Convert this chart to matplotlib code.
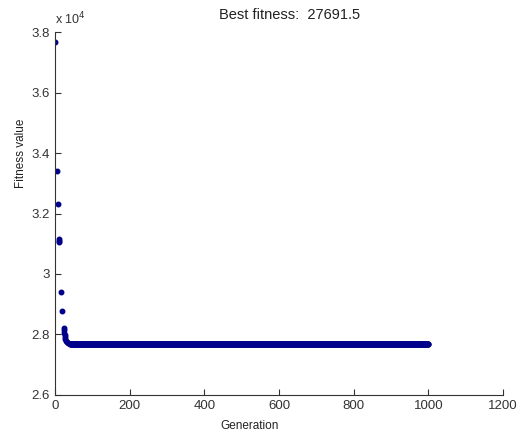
import numpy as np
import matplotlib.pyplot as plt
from matplotlib.ticker import FuncFormatter

# best fitness per generation (early generations)
gen_early = [1, 5, 9, 10, 11, 12, 17, 19, 23, 24, 25, 26, 27, 28, 30, 33, 36, 40]
best_early = [37680, 33420, 32330, 31150, 31100, 31050, 29410, 28790,
              28200, 28150, 28050, 27980, 27900, 27850, 27800, 27760, 27730, 27700]
best_final = 27691.5
gen_last = 1000

gen = np.concatenate([gen_early, np.arange(gen_early[-1] + 1, gen_last + 1)])
best = np.concatenate([best_early, np.full(gen_last - gen_early[-1], best_final)])

plt.rcParams['font.family'] = ['Liberation Sans', 'DejaVu Sans']

fig = plt.figure(figsize=(5.29, 4.34), dpi=100)
ax = fig.add_axes([0.104, 0.090, 0.847, 0.836])

ax.plot(gen, best, '.', color='#00008b', markersize=6.5)

ax.set_xlim(0, 1200)
ax.set_ylim(26000, 38000)
ax.set_xticks(np.arange(0, 1201, 200))
ax.set_yticks(np.arange(26000, 38001, 2000))
ax.yaxis.set_major_formatter(FuncFormatter(lambda v, p: '%g' % (v / 1e4)))

for s in ['top', 'right']:
    ax.spines[s].set_visible(False)
for s in ['left', 'bottom']:
    ax.spines[s].set_color('#333333')
ax.tick_params(direction='in', length=4, labelsize=9.5, colors='#333333')

ax.text(0.0, 1.012, r'x 10$^4$', transform=ax.transAxes, fontsize=9, color='#333333',
        ha='left', va='bottom')

ax.set_title('Best fitness:  27691.5', fontsize=10.5, color='#222222', x=0.523, y=1.036, pad=0)
ax.set_xlabel('Generation', fontsize=8.5, color='#222222')
ax.xaxis.set_label_coords(0.434, -0.069)
ax.set_ylabel('Fitness value', fontsize=8.5, color='#222222')
ax.yaxis.set_label_coords(-0.063, 0.665)

plt.savefig('out.png', dpi=100)
